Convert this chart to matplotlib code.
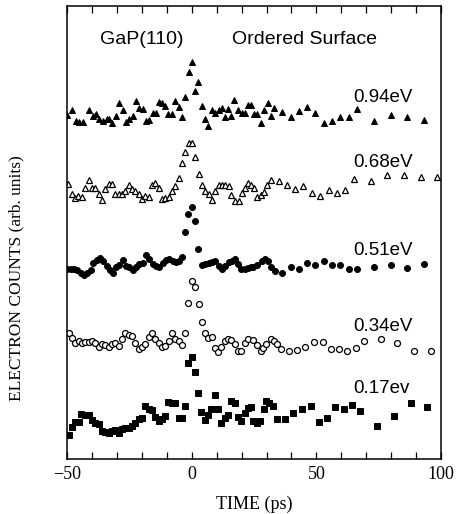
import matplotlib
matplotlib.use('Agg')
import matplotlib.pyplot as plt
from matplotlib.ticker import MultipleLocator

# time delay (ps) and electron counts (arb. units)
t_094 = [-50.0, -48.1, -46.4, -45.1, -43.7, -41.3, -39.7, -38.4, -37.3, -35.7, -34.1, -33.0, -32.0,
         -30.4, -29.0, -27.7, -26.4, -25.0, -23.7, -22.3, -21.0, -19.7, -18.3, -17.0, -15.6, -14.3,
         -13.2, -11.9, -10.6, -9.5, -7.9, -6.6, -5.2, -3.9, -2.6, -1.2, 0.1, 1.3, 2.6, 4.1, 5.2, 6.5,
         8.1, 9.5, 10.8, 12.2, 13.2, 14.6, 15.9, 17.0, 18.6, 20.2, 21.5, 22.6, 23.9, 25.0, 26.3, 27.7,
         29.0, 30.6, 31.7, 33.0, 36.2, 39.7, 42.9, 46.4, 49.6, 53.1, 56.3, 59.5, 63.0, 66.4, 73.1,
         79.8, 86.5, 93.2]
c_094 = [344, 349, 338, 337, 337, 349, 343, 345, 340, 338, 340, 340, 336,
         343, 356, 349, 337, 340, 343, 358, 351, 350, 338, 339, 346, 346,
         357, 356, 353, 345, 345, 358, 352, 342, 362, 387, 397, 368, 377, 353, 340, 333,
         349, 346, 349, 351, 342, 350, 343, 359, 349, 346, 346, 354, 354, 345, 345, 336,
         349, 356, 343, 351, 347, 342, 348, 352, 346, 336, 338, 342, 342, 350, 338,
         344, 342, 339]

t_068 = [-49.5, -48.0, -46.8, -45.5, -44.1, -42.7, -41.3, -40.0, -38.7, -37.3, -36.0, -34.7, -33.3,
         -32.0, -30.6, -29.3, -28.0, -26.6, -25.3, -23.9, -22.6, -21.3, -19.9, -18.6, -17.2, -15.9,
         -14.6, -13.2, -11.9, -10.6, -9.2, -7.9, -6.6, -5.2, -3.9, -2.6, -1.2, 0.1, 1.4, 2.8, 4.1,
         5.5, 6.8, 8.1, 9.5, 10.8, 12.2, 13.5, 14.8, 15.9, 17.2, 18.9, 20.2, 21.5, 22.6, 23.9, 25.0,
         26.3, 27.7, 29.0, 30.3, 31.9, 35.1, 38.3, 41.6, 44.8, 48.3, 51.5, 55.0, 58.4, 61.6, 65.1,
         71.8, 78.5, 85.2, 91.9, 98.5]
c_068 = [275, 265, 261, 263, 262, 271, 279, 271, 271, 265, 259, 270, 275,
         275, 265, 265, 265, 268, 274, 270, 268, 265, 260, 263, 262, 274,
         276, 271, 260, 261, 262, 268, 273, 281, 296, 307, 316, 316, 302, 285, 274,
         268, 265, 259, 268, 274, 274, 274, 273, 264, 258, 258, 266, 271, 276, 274, 271,
         262, 264, 267, 274, 279, 278, 274, 270, 273, 266, 263, 269, 266, 269, 280,
         278, 284, 284, 282, 282]

t_051 = [-49.9, -48.5, -47.2, -45.9, -44.5, -43.2, -41.9, -40.5, -39.5, -38.1, -36.8, -35.5, -34.1,
         -32.8, -31.7, -30.4, -29.0, -27.7, -26.4, -25.0, -23.7, -22.3, -21.0, -19.7, -18.3, -17.0,
         -15.6, -14.3, -13.0, -11.6, -10.3, -9.0, -7.6, -6.3, -5.2, -3.9, -2.6, -1.5, 0.1, 1.4, 2.5,
         4.1, 5.5, 6.8, 8.1, 9.5, 10.8, 12.2, 13.5, 14.8, 16.2, 17.5, 18.6, 19.9, 21.3, 22.6, 23.9,
         24.7, 26.3, 28.2, 29.3, 30.6, 31.9, 33.3, 36.2, 39.7, 42.9, 46.4, 49.6, 53.1, 56.3, 59.5,
         63.0, 66.4, 73.1, 79.8, 86.5, 93.2]
c_051 = [190, 190, 190, 189, 186, 184, 186, 189, 196, 199, 201, 198, 193,
         189, 186, 192, 194, 199, 193, 192, 189, 192, 195, 196, 204, 200,
         195, 193, 192, 196, 199, 200, 198, 197, 198, 202, 227, 245, 252, 238, 210,
         194, 195, 196, 197, 198, 193, 190, 193, 197, 198, 200, 195, 190, 190, 191, 192,
         192, 194, 198, 200, 198, 192, 188, 186, 192, 190, 196, 194, 198, 194, 194,
         190, 190, 192, 194, 191, 195]

t_034 = [-49.3, -48.0, -46.7, -45.3, -44.0, -42.7, -41.3, -40.0, -38.7, -37.3, -36.0, -34.7, -33.3,
         -32.0, -30.6, -29.3, -28.0, -26.6, -25.3, -23.9, -22.6, -21.3, -19.9, -18.6, -17.2, -15.9,
         -14.6, -13.2, -11.9, -10.6, -9.2, -7.9, -6.6, -5.2, -3.9, -2.6, -1.5, 0.1, 1.4, 2.8, 4.1,
         5.2, 6.5, 8.1, 9.2, 10.5, 11.9, 13.2, 14.6, 15.9, 17.2, 18.6, 19.9, 21.3, 22.6, 24.7, 26.1,
         27.7, 28.7, 29.8, 31.7, 33.0, 34.3, 35.7, 39.1, 42.4, 45.6, 49.1, 52.5, 55.8, 59.2, 62.4,
         65.9, 69.1, 75.8, 82.5, 89.2, 95.9]
c_034 = [126, 121, 116, 118, 116, 117, 117, 118, 116, 112, 115, 114, 112,
         115, 116, 113, 120, 126, 124, 123, 116, 110, 112, 115, 122, 126,
         120, 116, 112, 113, 118, 126, 120, 118, 114, 126, 156, 178, 172, 155, 137,
         126, 121, 122, 111, 107, 112, 118, 120, 119, 115, 108, 108, 116, 120, 119, 114,
         108, 111, 115, 120, 118, 115, 110, 108, 109, 112, 117, 117, 110, 110, 108,
         111, 118, 120, 116, 108, 108]

t_017 = [-49.3, -48.0, -46.7, -45.3, -44.3, -42.7, -41.3, -40.0, -38.7, -37.3, -36.0, -34.7, -33.3,
         -32.0, -30.6, -29.3, -28.0, -26.6, -25.3, -23.9, -22.6, -21.3, -19.9, -18.6, -17.2, -15.9,
         -14.6, -13.2, -11.9, -10.6, -9.5, -7.9, -6.6, -5.2, -3.9, -2.6, -1.5, 0.1, 1.4, 2.5, 3.9,
         5.2, 6.5, 7.9, 9.2, 10.5, 11.9, 13.2, 14.6, 15.9, 17.2, 18.6, 19.9, 21.3, 22.6, 23.9, 24.7,
         26.1, 27.4, 29.0, 29.8, 31.1, 32.5, 34.3, 37.5, 40.8, 44.2, 47.7, 50.9, 54.1, 57.6, 61.1,
         64.3, 67.5, 74.2, 81.1, 87.8, 94.5]
c_017 = [24, 32, 37, 37, 45, 44, 44, 39, 36, 35, 28, 27, 26,
         28, 29, 26, 30, 31, 31, 33, 36, 40, 41, 53, 50, 49,
         42, 38, 40, 43, 57, 56, 56, 41, 41, 53, 96, 102, 87, 66, 47,
         39, 44, 50, 64, 50, 36, 41, 44, 58, 56, 42, 38, 46, 51, 52, 38,
         36, 38, 50, 58, 56, 53, 40, 40, 46, 50, 53, 37, 41, 52, 50,
         54, 48, 33, 43, 56, 52]

labels = ['0.94eV', '0.68eV', '0.51eV', '0.34eV', '0.17ev']
label_y = [362, 297, 209, 133, 71]

fig = plt.figure(figsize=(4.59, 5.14), dpi=100)
ax = fig.add_axes([0.146, 0.107, 0.815, 0.881])

ax.plot(t_094, c_094, '^', color='black', ms=4.6, mew=0.7)
ax.plot(t_068, c_068, '^', mfc='white', mec='black', ms=4.6, mew=0.9)
ax.plot(t_051, c_051, 'o', color='black', ms=4.3, mew=0.7)
ax.plot(t_034, c_034, 'o', mfc='white', mec='black', ms=4.3, mew=0.9)
ax.plot(t_017, c_017, 's', color='black', ms=4.0, mew=0.7)

for lab, y in zip(labels, label_y):
    ax.text(64.7, y, lab, family='Liberation Sans', fontsize=13.5, va='center', ha='left')

ax.text(-36.8, 420, 'GaP(110)', family='Liberation Sans', fontsize=14, va='center')
ax.text(16.0, 420, 'Ordered Surface', family='Liberation Sans', fontsize=14, va='center')

ax.set_xlim(-50, 100)
ax.set_ylim(0, 453)
ax.xaxis.set_major_locator(MultipleLocator(50))
ax.xaxis.set_minor_locator(MultipleLocator(10))
ax.tick_params(axis='x', which='both', direction='in', top=True, length=5, width=0.9)
ax.tick_params(axis='x', labelsize=13, pad=5)
ax.set_yticks([])
for lab in ax.get_xticklabels():
    lab.set_family('Liberation Serif')
for s in ax.spines.values():
    s.set_linewidth(1.1)

ax.set_xlabel('TIME (ps)', family='Liberation Serif', fontsize=13, labelpad=9)
ax.set_ylabel('ELECTRON COUNTS (arb. units)', family='Liberation Serif', fontsize=12.5)
ax.yaxis.set_label_coords(-0.113, 0.40)

fig.savefig('out.png', dpi=100)
